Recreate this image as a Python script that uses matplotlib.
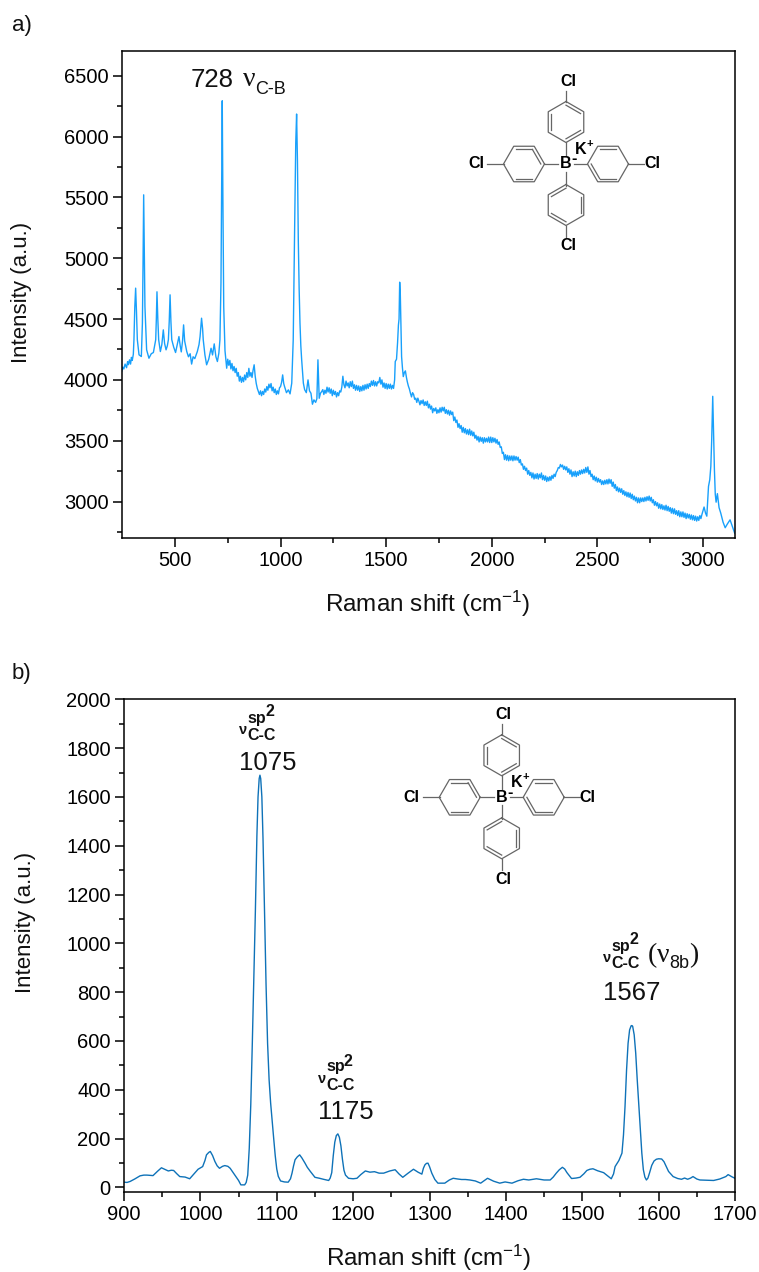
import numpy as np
import matplotlib
matplotlib.use("Agg")
import matplotlib.pyplot as plt

plt.rcParams['font.family'] = ['Liberation Sans', 'DejaVu Sans']
plt.rcParams['mathtext.fontset'] = 'custom'
plt.rcParams['mathtext.rm'] = 'Liberation Sans'
plt.rcParams['mathtext.default'] = 'regular'

# Panel a) spectrum, sharp peaks below 745 cm-1
a_shift_low = [
    248, 253, 258, 264, 271, 276, 280, 285, 290, 294, 298, 303, 306, 310, 314, 318, 322, 330, 341, 346,
    349, 352, 355, 358, 366, 377, 388, 398, 409, 412, 415, 419, 423, 431, 438, 445, 451, 458, 464, 469,
    473, 477, 481, 485, 494, 503, 511, 519, 525, 530, 536, 541, 546, 556, 564, 572, 579, 586, 594, 606,
    614, 619, 626, 631, 634, 642, 650, 660, 671, 678, 686, 694, 701, 708, 713, 718, 721, 724, 727, 731, 737,
]
a_intensity_low = [
    4070, 4105, 4090, 4130, 4100, 4150, 4125, 4165, 4130, 4185, 4160, 4210, 4330, 4600, 4754, 4560, 4330, 4206, 4192, 4466,
    4950, 5521, 5050, 4603, 4247, 4178, 4215, 4225, 4330, 4500, 4724, 4500, 4330, 4233, 4290, 4411, 4300, 4247, 4280, 4330,
    4480, 4699, 4480, 4330, 4270, 4225, 4290, 4356, 4280, 4230, 4320, 4452, 4320, 4233, 4190, 4215, 4130, 4190, 4175, 4233,
    4290, 4356, 4507, 4420, 4330, 4205, 4124, 4170, 4260, 4205, 4296, 4190, 4151, 4220, 4330, 4800, 5600, 6294, 5500, 4600, 4240,
]

# 745-1000 cm-1, every 5 cm-1
a_intensity_745 = [
    4096, 4170, 4120, 4160, 4090, 4135, 4075, 4110, 4060, 4095, 4030, 4060, 3990, 4030, 3980, 4020, 3985, 4040, 4000, 4060,
    4020, 4095, 4030, 4060, 4020, 4080, 4124, 4030, 3970, 3930, 3905, 3880, 3910, 3870, 3905, 3880, 3925, 3900, 3945, 3915,
    3965, 3935, 3970, 3910, 3940, 3895, 3925, 3880, 3910, 3885, 3935, 3945,
]

# 1005-1190 cm-1, the 1075 and 1175 peaks
a_shift_mid = [
    1005, 1010, 1015, 1019, 1028, 1037, 1045, 1053, 1060, 1064, 1068, 1072, 1076, 1080, 1084, 1088, 1092, 1096, 1100, 1108,
    1114, 1122, 1130, 1137, 1144, 1151, 1158, 1166, 1172, 1177, 1183, 1189,
]
a_intensity_mid = [
    3980, 4041, 3970, 3945, 3895, 3918, 3885, 3973, 4329, 4900, 5426, 5950, 6185, 5800, 5152, 4750, 4466, 4280, 4165, 3973,
    3920, 3895, 4000, 3910, 3890, 3800, 3836, 3815, 3845, 4165, 3849, 3890,
]

# 1195-1535 cm-1, every 5 cm-1
a_intensity_1195 = [
    3905, 3920, 3880, 3915, 3890, 3940, 3900, 3935, 3890, 3925, 3870, 3915, 3880, 3905, 3860, 3895, 3870, 3910, 3900, 3940,
    4030, 3960, 3935, 3990, 3950, 3975, 3935, 3985, 3945, 3990, 3930, 3960, 3915, 3955, 3915, 3950, 3905, 3945, 3910, 3955,
    3915, 3960, 3925, 3965, 3930, 3970, 3945, 3990, 3955, 3995, 3950, 3985, 3950, 3985, 3975, 4020, 3965, 4000, 3940, 3975,
    3930, 3970, 3925, 3965, 3930, 3965, 3925, 3955, 3930,
]

# 1567 peak
a_shift_1540 = [1540, 1543, 1549, 1554, 1558, 1561, 1564, 1567, 1570, 1573, 1577, 1581, 1586, 1591, 1596]
a_intensity_1540 = [4000, 4151, 4170, 4307, 4450, 4500, 4803, 4700, 4450, 4192, 4100, 4027, 4060, 4074, 4020]

# 1600-2995 cm-1, every 5 cm-1
a_intensity_1600 = [
    3985, 3950, 3925, 3890, 3860, 3895, 3880, 3840, 3850, 3815, 3850, 3825, 3795, 3830, 3805, 3835, 3790, 3820, 3790, 3825,
    3770, 3800, 3760, 3785, 3730, 3765, 3745, 3770, 3725, 3755, 3730, 3770, 3735, 3775, 3745, 3775, 3725, 3755, 3720, 3750,
    3710, 3745, 3715, 3735, 3665, 3695, 3650, 3670, 3610, 3640, 3600, 3625, 3570, 3610, 3565, 3600, 3555, 3590, 3550, 3595,
    3545, 3580, 3540, 3570, 3520, 3545, 3505, 3535, 3490, 3530, 3495, 3525, 3480, 3525, 3490, 3520, 3490, 3530, 3485, 3530,
    3485, 3525, 3490, 3520, 3480, 3510, 3470, 3490, 3445, 3450, 3395, 3405, 3345, 3385, 3340, 3380, 3335, 3375, 3340, 3375,
    3335, 3375, 3340, 3370, 3340, 3365, 3320, 3345, 3300, 3310, 3265, 3290, 3255, 3275, 3225, 3255, 3215, 3240, 3195, 3235,
    3185, 3225, 3190, 3230, 3185, 3225, 3195, 3235, 3180, 3215, 3175, 3210, 3165, 3200, 3170, 3205, 3175, 3215, 3190, 3225,
    3205, 3240, 3255, 3280, 3275, 3305, 3285, 3300, 3265, 3290, 3260, 3285, 3240, 3270, 3225, 3260, 3205, 3245, 3210, 3250,
    3205, 3245, 3215, 3255, 3225, 3260, 3230, 3265, 3235, 3280, 3240, 3285, 3225, 3255, 3205, 3225, 3180, 3210, 3170, 3200,
    3160, 3190, 3160, 3180, 3140, 3170, 3140, 3175, 3145, 3180, 3145, 3185, 3150, 3180, 3125, 3160, 3110, 3140, 3090, 3120,
    3080, 3110, 3075, 3105, 3060, 3090, 3050, 3080, 3040, 3075, 3035, 3070, 3025, 3060, 3015, 3045, 3005, 3035, 2990, 3030,
    2990, 3030, 3000, 3030, 3000, 3035, 3005, 3040, 3010, 3045, 3005, 3035, 2990, 3015, 2970, 3000, 2965, 2990, 2945, 2980,
    2940, 2975, 2935, 2965, 2930, 2970, 2925, 2960, 2920, 2950, 2905, 2945, 2900, 2940, 2895, 2925, 2885, 2925, 2875, 2915,
    2875, 2915, 2870, 2905, 2860, 2900, 2865, 2895, 2855, 2890, 2850, 2885, 2845, 2880, 2840, 2875, 2845, 2885, 2860, 2895,
]

# Peak near 3046 cm-1 up to the end of the range
a_shift_3000 = [3000, 3005, 3012, 3018, 3022, 3026, 3032, 3037, 3041, 3046, 3050, 3054, 3058, 3062, 3068, 3072, 3076, 3084, 3095, 3105, 3115, 3128, 3140, 3150]
a_intensity_3000 = [2925, 2955, 2905, 2880, 3000, 3125, 3180, 3290, 3500, 3865, 3550, 3260, 3060, 2995, 3065, 3010, 2950, 2905, 2830, 2785, 2815, 2850, 2790, 2740]

a_shift = np.concatenate([a_shift_low, np.arange(745, 1005, 5), a_shift_mid, np.arange(1195, 1540, 5),
                          a_shift_1540, np.arange(1600, 3000, 5), a_shift_3000])
a_intensity = np.concatenate([a_intensity_low, a_intensity_745, a_intensity_mid, a_intensity_1195,
                              a_intensity_1540, a_intensity_1600, a_intensity_3000])

# Panel b) spectrum
b_shift = [
    900, 904, 908, 914, 921, 926, 930, 938, 944, 949, 953, 958, 962, 965, 969, 973, 980, 986, 992, 997,
    1003, 1006, 1008, 1011, 1013, 1016, 1019, 1022, 1025, 1029, 1032, 1036, 1039, 1045, 1050, 1053, 1058, 1060, 1062, 1064,
    1066, 1068, 1070, 1072, 1074, 1075.5, 1077, 1078, 1079, 1080.5, 1082, 1084, 1086, 1088, 1090, 1092, 1094, 1096, 1098, 1100,
    1102, 1105, 1110, 1115, 1118, 1120, 1122, 1124, 1127, 1130, 1133, 1137, 1140, 1144, 1150, 1156, 1161, 1168, 1170, 1172,
    1174, 1176, 1178, 1180, 1182, 1184, 1186, 1188, 1190, 1194, 1200, 1205, 1210, 1216, 1222, 1228, 1234, 1240, 1248, 1255,
    1260, 1265, 1272, 1279, 1285, 1290, 1292, 1294, 1296, 1298, 1300, 1303, 1307, 1311, 1320, 1326, 1331, 1337, 1342, 1347,
    1353, 1360, 1367, 1372, 1376, 1384, 1392, 1399, 1408, 1416, 1423, 1430, 1440, 1450, 1458, 1462, 1466, 1470, 1474, 1477,
    1480, 1486, 1492, 1497, 1502, 1506, 1510, 1514, 1520, 1528, 1534, 1538, 1541, 1543, 1548, 1552, 1554, 1556, 1558, 1560,
    1562, 1564, 1565, 1566, 1568, 1570, 1572, 1574, 1576, 1578, 1580, 1582, 1584, 1586, 1588, 1591, 1594, 1597, 1600, 1604,
    1607, 1610, 1613, 1619, 1625, 1630, 1634, 1638, 1642, 1645, 1650, 1654, 1663, 1672, 1680, 1685, 1688, 1691, 1696, 1700,
]
b_intensity = [
    21, 20, 24, 34, 47, 50, 50, 48, 66, 80, 74, 67, 70, 69, 56, 44, 42, 35, 56, 74,
    85, 110, 133, 143, 147, 130, 106, 88, 78, 86, 89, 86, 78, 51, 28, 10, 10, 20, 50, 160,
    340, 590, 860, 1130, 1440, 1600, 1675, 1689, 1675, 1600, 1430, 1140, 830, 590, 440, 345, 270, 200, 130, 75,
    45, 26, 22, 21, 35, 58, 88, 113, 125, 133, 120, 99, 82, 65, 41, 37, 33, 28, 38, 60,
    130, 185, 212, 219, 205, 170, 115, 70, 50, 37, 35, 37, 52, 67, 62, 64, 58, 58, 67, 72,
    55, 41, 58, 74, 62, 54, 78, 92, 98, 99, 85, 58, 32, 17, 17, 30, 37, 34, 32, 32,
    30, 26, 17, 28, 37, 25, 17, 22, 17, 27, 33, 30, 35, 30, 30, 42, 58, 72, 82, 75,
    60, 36, 38, 41, 55, 69, 74, 76, 68, 60, 45, 35, 55, 85, 110, 140, 215, 331, 480, 590,
    645, 662, 663, 660, 625, 550, 440, 340, 240, 140, 72, 42, 30, 38, 58, 90, 108, 115, 117, 116,
    105, 85, 65, 44, 36, 33, 38, 33, 38, 44, 34, 30, 29, 28, 34, 40, 44, 52, 43, 37,
]

a_xticks = [500, 1000, 1500, 2000, 2500, 3000]
a_yticks = [3000, 3500, 4000, 4500, 5000, 5500, 6000, 6500]
b_xticks = [900, 1000, 1100, 1200, 1300, 1400, 1500, 1600, 1700]
b_yticks = [0, 200, 400, 600, 800, 1000, 1200, 1400, 1600, 1800, 2000]

W, H = 759, 1272
fig = plt.figure(figsize=(W / 100, H / 100), dpi=100)


def axes_from_pixels(left, top, right, bottom):
    return fig.add_axes([left / W, 1 - bottom / H, (right - left) / W, (bottom - top) / H])


def style_axes(ax):
    for s in ax.spines.values():
        s.set_linewidth(1.1)
    ax.tick_params(axis='both', which='major', length=6.5, width=1.1, labelsize=14.5, pad=3)
    ax.tick_params(axis='both', which='minor', length=3.5, width=1.1)


ax_a = axes_from_pixels(121.7, 51, 734.7, 537.7)
ax_a.plot(a_shift, a_intensity, color='#18a0fb', lw=1.0)
ax_a.set_xticks(a_xticks)
ax_a.set_yticks(a_yticks)
ax_a.set_xticks(np.array(a_xticks[:-1]) + 250, minor=True)
ax_a.set_yticks([2750] + [y + 250 for y in a_yticks[:-1]], minor=True)
ax_a.set_xlim(248, 3150)
ax_a.set_ylim(2703, 6703)
style_axes(ax_a)

ax_b = axes_from_pixels(124, 699.3, 735, 1191.7)
ax_b.plot(b_shift, b_intensity, color='#0e72b8', lw=1.0)
ax_b.set_xticks(b_xticks)
ax_b.set_yticks(b_yticks)
ax_b.set_xticks(np.array(b_xticks[:-1]) + 50, minor=True)
ax_b.set_yticks(np.array(b_yticks[:-1]) + 100, minor=True)
ax_b.set_xlim(900, 1700)
ax_b.set_ylim(-18, 2000)
style_axes(ax_b)

# Overlay in pixel coordinates for labels and the molecule sketches
ov = fig.add_axes([0, 0, 1, 1], facecolor='none')
ov.set_xlim(0, W)
ov.set_ylim(H, 0)
ov.axis('off')


def label(x, y, s, size, **kw):
    kw.setdefault('ha', 'left')
    kw.setdefault('va', 'center')
    ov.text(x, y, s, fontsize=size, color=kw.pop('color', '#111111'), **kw)


label(12, 25, 'a)', 16)
label(12, 673, 'b)', 16)
label(428, 604, 'Raman shift (cm$^{-1}$)', 17.5, ha='center')
label(429, 1258, 'Raman shift (cm$^{-1}$)', 17.5, ha='center')
label(22, 292, 'Intensity (a.u.)', 16, ha='center', rotation=90)
label(25, 922, 'Intensity (a.u.)', 16, ha='center', rotation=90)

# Peak annotations
label(191, 80, '728', 18.5)
label(243, 80, 'ν', 20, family='Liberation Serif')
label(255, 89, 'C-B', 13)


def sp2_label(x, y, number, gap=45):
    label(x, y + 12, 'ν', 10.5, weight='bold')
    label(x + 8, y, 'sp', 11.5, weight='bold')
    label(x + 26, y - 6, '2', 11.5, weight='bold')
    label(x + 8, y + 18, 'C-C', 11.5, weight='bold')
    label(x, y + gap, number, 18.5)


sp2_label(239, 718, '1075')
sp2_label(318, 1067, '1175')
sp2_label(603, 946, '1567', gap=47)
label(648, 956, '(', 20, family='Liberation Serif')
label(657, 956, 'ν', 20, family='Liberation Serif')
label(669, 964, '8b', 13)
label(689, 956, ')', 20, family='Liberation Serif')


def draw_ring(cx, cy, pointy, doubles, r=20.5):
    angles = np.deg2rad(np.arange(6) * 60 + (90 if pointy else 0))
    xs, ys = cx + r * np.cos(angles), cy - r * np.sin(angles)
    ov.plot(np.append(xs, xs[0]), np.append(ys, ys[0]), color='#666666', lw=0.9)
    for i in doubles:
        j = (i + 1) % 6
        # inner line of each double bond
        x0, y0 = cx + (xs[i] - cx) * 0.82, cy + (ys[i] - cy) * 0.82
        x1, y1 = cx + (xs[j] - cx) * 0.82, cy + (ys[j] - cy) * 0.82
        ov.plot([x0, x1], [y0, y1], color='#666666', lw=0.9)


def draw_molecule(bx, by):
    bonds = [
        ([bx, bx], [by - 8, by - 22]), ([bx, bx], [by + 8, by + 22]),
        ([bx - 8, bx - 21], [by, by]), ([bx + 8, bx + 21], [by, by]),
        ([bx, bx], [by - 62, by - 73]), ([bx, bx], [by + 62, by + 73]),
        ([bx - 62, bx - 79], [by, by]), ([bx + 62, bx + 78], [by, by]),
    ]
    for xs, ys in bonds:
        ov.plot(xs, ys, color='#666666', lw=0.9)
    draw_ring(bx, by - 42, True, (5, 1, 3))
    draw_ring(bx, by + 41, True, (0, 2, 4))
    draw_ring(bx - 42, by, False, (0, 1, 4))
    draw_ring(bx + 42, by, False, (1, 3, 4))
    for dx, dy in [(2, -83), (-90, 0), (86, 0), (2, 82)]:
        label(bx + dx, by + dy, 'Cl', 11.5, weight='bold', ha='center', color='black')
    label(bx, by, 'B', 11.5, weight='bold', ha='center', color='black')
    label(bx + 8, by - 5, '-', 11.5, weight='bold', ha='center', color='black')
    label(bx + 15, by - 15, 'K', 11.5, weight='bold', ha='center', color='black')
    label(bx + 24, by - 20, '+', 8, weight='bold', ha='center', color='black')


draw_molecule(566, 164)
draw_molecule(501.7, 797.3)

fig.savefig("out.png", dpi=100)
